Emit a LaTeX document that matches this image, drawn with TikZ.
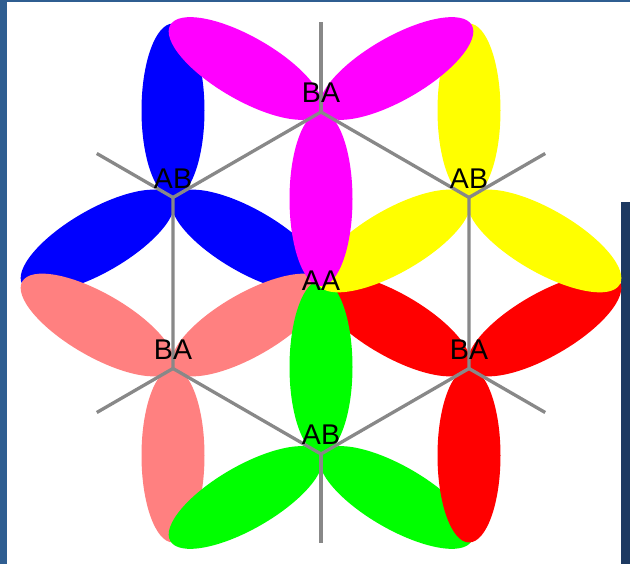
\documentclass[tikz,border=0pt]{standalone}
\usepackage{fontspec}
\setmainfont{Liberation Sans}
\usetikzlibrary{calc}
\definecolor{leftband}{HTML}{2F5E91}
\definecolor{rightband}{HTML}{1D3961}
\definecolor{latgray}{HTML}{888888}
\definecolor{cmag}{HTML}{FF00FF}
\definecolor{cblue}{HTML}{0000FF}
\definecolor{cyel}{HTML}{FFFF00}
\definecolor{cred}{HTML}{FF0000}
\definecolor{csal}{HTML}{FF8080}
\definecolor{cgreen}{HTML}{00FF00}
\newcommand\drawpetal[3]{\fill[#1] (#2) ++(#3:87) circle [x radius=87, y radius=31.5, rotate=#3];}
\begin{document}
\begin{tikzpicture}[x=1pt,y=1pt,
  lattice/.style={draw=latgray, line width=3.3pt},
  lbl/.style={font=\fontsize{28.5}{28.5}\selectfont, inner sep=0pt, anchor=base, text=black}]
\useasboundingbox (0,0) rectangle (630,564);
\fill[white] (0,0) rectangle (630,564);
\fill[leftband] (0,0) rectangle (7,564);
\fill[leftband] (0,562) rectangle (630,564);
\fill[rightband] (621,0) rectangle (630,362);
% lattice sites
\coordinate (T) at (321,452);
\coordinate (ABL) at (173,366.5);
\coordinate (ABR) at (469,366.5);
\coordinate (BAL) at (173,195.5);
\coordinate (BAR) at (469,195.5);
\coordinate (B) at (321,110);
\coordinate (C) at (321,281);
% outer spoke ends
\coordinate (eT) at (321,542);
\coordinate (eABL) at ($(ABL)+(150:88)$);
\coordinate (eABR) at ($(ABR)+(30:88)$);
\coordinate (eBAL) at ($(BAL)+(210:88)$);
\coordinate (eBAR) at ($(BAR)+(330:88)$);
\coordinate (eB) at (321,21);
% petals
\drawpetal{cblue}{ABL}{90}
\drawpetal{cblue}{ABL}{210}
\drawpetal{cblue}{ABL}{330}
\drawpetal{csal}{BAL}{150}
\drawpetal{csal}{BAL}{30}
\drawpetal{csal}{BAL}{270}
\drawpetal{cgreen}{B}{210}
\drawpetal{cgreen}{B}{330}
\drawpetal{cred}{BAR}{30}
\drawpetal{cred}{BAR}{150}
\drawpetal{cred}{BAR}{270}
\drawpetal{cgreen}{B}{90}
\drawpetal{cyel}{ABR}{90}
\drawpetal{cyel}{ABR}{210}
\drawpetal{cyel}{ABR}{330}
\drawpetal{cmag}{T}{150}
\drawpetal{cmag}{T}{30}
\drawpetal{cmag}{T}{270}
% lattice lines
\draw[lattice] (T) -- (ABL) -- (BAL) -- (B) -- (BAR) -- (ABR) -- (T);
\draw[lattice] (T) -- (eT);
\draw[lattice] (ABL) -- (eABL);
\draw[lattice] (ABR) -- (eABR);
\draw[lattice] (BAL) -- (eBAL);
\draw[lattice] (BAR) -- (eBAR);
\draw[lattice] (B) -- (eB);
% labels
\path (T) ++(0,9) node[lbl] (lT) {BA};
\path (ABL) ++(0,9) node[lbl] (lABL) {AB};
\path (ABR) ++(0,9) node[lbl] (lABR) {AB};
\path (BAL) ++(0,9) node[lbl] (lBAL) {BA};
\path (BAR) ++(0,9) node[lbl] (lBAR) {BA};
\path (B) ++(0,9) node[lbl] (lB) {AB};
\path (C) ++(0,-8) node[lbl] (lC) {AA};
\end{tikzpicture}
\end{document}
